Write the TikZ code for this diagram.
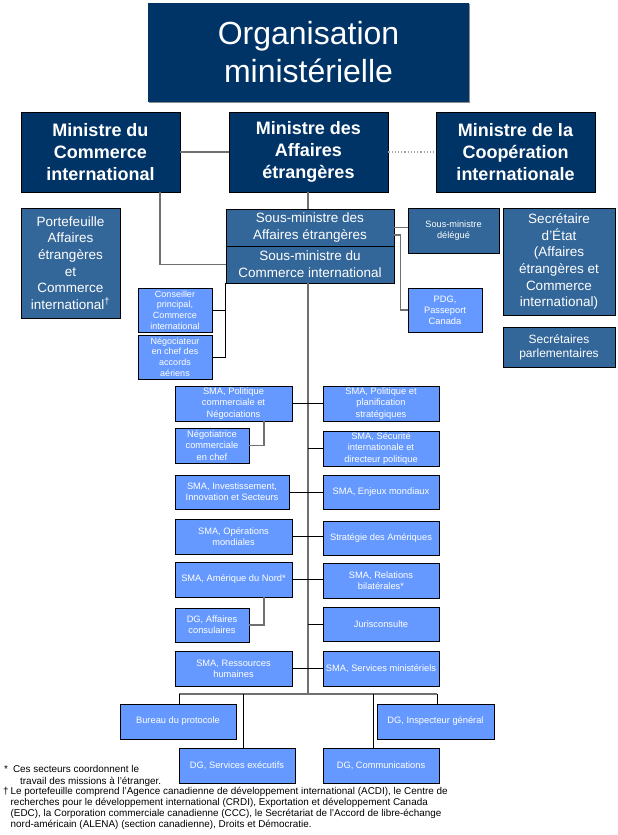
\documentclass[tikz,border=0pt]{standalone}
\usepackage{fontspec}
\setmainfont{Liberation Sans}
\usetikzlibrary{shadows}
\definecolor{navy}{HTML}{003366}
\definecolor{midblue}{HTML}{336699}
\definecolor{lightblue}{HTML}{6699FF}
\definecolor{linegray}{HTML}{707070}
\begin{document}
\begin{tikzpicture}[x=1pt,y=-1pt,
  sz/.style n args={2}{minimum width=#1pt, minimum height=#2pt},
  box/.style={draw=black, line width=0.8pt, text=white, align=center, inner sep=0pt,
    drop shadow={shadow xshift=1.3pt, shadow yshift=-1.3pt, fill=black!45, opacity=1}},
  titlebox/.style={box, draw=none, fill=navy, font=\fontsize{32}{38}\selectfont},
  navybox/.style={box, fill=navy, font=\bfseries\fontsize{18}{22}\selectfont},
  midbox/.style={box, fill=midblue, font=\fontsize{13.5}{16.7}\selectfont},
  smallmid/.style={box, fill=midblue, font=\fontsize{9.2}{11.3}\selectfont},
  lbox/.style={box, fill=lightblue, font=\fontsize{9.3}{11.2}\selectfont},
  mainline/.style={draw=linegray, line width=1.6pt},
  branch/.style={draw=black, line width=0.9pt},
  note/.style={anchor=north west, inner sep=0pt, align=left, font=\fontsize{9.9}{11.3}\selectfont}
]
\useasboundingbox[fill=white] (0,0) rectangle (618,835);

% ---------- title and ministers ----------
\node[titlebox, sz={321}{99}] (title) at (308.5,52.5) {Organisation\\ministérielle};
\node[navybox, sz={159}{80}] (minC) at (100.5,152) {Ministre du\\Commerce\\international};
\node[navybox, sz={159}{80}] (minA) at (308.5,152) {Ministre des\\Affaires\\étrangères};
\node[navybox, sz={159}{80}] (minI) at (515.5,152) {Ministre de la\\Coopération\\internationale};

% ---------- second level ----------
\node[midbox, sz={99}{110}] (port) at (70.5,263) {Portefeuille\\Affaires\\étrangères\\et\\Commerce\\international\textsuperscript{†}};
\node[midbox, sz={168}{37}] (sm1) at (310,227.5) {Sous-ministre des\\Affaires étrangères};
\node[midbox, sz={168}{37}] (sm2) at (310,264.5) {Sous-ministre du\\Commerce international};
\node[smallmid, sz={91}{45}] (smd) at (453.5,230.5) {Sous-ministre\\délégué};
\node[lbox, sz={74}{44}] (pdg) at (445,310) {PDG,\\Passeport\\Canada};
\node[midbox, sz={112}{107}] (sec) at (559,261.5) {Secrétaire\\d'État\\(Affaires\\étrangères et\\Commerce\\international)};
\node[midbox, sz={112}{40}, font=\fontsize{12}{14}\selectfont] (parl) at (559,347) {Secrétaires\\parlementaires};
\node[lbox, sz={74}{44}, font=\fontsize{9}{10.8}\selectfont] (cons) at (175,310) {Conseiller\\principal,\\Commerce\\international};
\node[lbox, sz={74}{44}, font=\fontsize{9}{10.8}\selectfont] (nego) at (175,357) {Négociateur\\en chef des\\accords\\aériens};

% ---------- left column ----------
\node[lbox, sz={117}{35}] (smapc) at (233.5,403.5) {SMA, Politique\\commerciale et\\Négociations};
\node[lbox, sz={74}{35}] (negt) at (212,445.5) {Négotiatrice\\commerciale\\en chef};
\node[lbox, sz={114}{34}] (inv) at (232,492) {SMA, Investissement,\\Innovation et Secteurs};
\node[lbox, sz={117}{35}] (ops) at (233.5,536.5) {SMA, Opérations\\mondiales};
\node[lbox, sz={117}{35}] (adn) at (233.5,579.5) {SMA, Amérique du Nord*};
\node[lbox, sz={74}{34}] (dgac) at (212,625) {DG, Affaires\\consulaires};
\node[lbox, sz={117}{35}] (rh) at (233.5,668.5) {SMA, Ressources\\humaines};

% ---------- right column ----------
\node[lbox, sz={116}{35}] (pps) at (381,403.5) {SMA, Politique et\\planification\\stratégiques};
\node[lbox, sz={116}{35}] (sec2) at (381,448.5) {SMA, Sécurité\\internationale et\\directeur politique};
\node[lbox, sz={116}{34}] (enj) at (381,492) {SMA, Enjeux mondiaux};
\node[lbox, sz={116}{34}] (strat) at (381,538) {Stratégie des Amériques};
\node[lbox, sz={116}{35}] (rb) at (381,580.5) {SMA, Relations\\bilatérales*};
\node[lbox, sz={116}{34}] (juris) at (381,624) {Jurisconsulte};
\node[lbox, sz={116}{35}] (smin) at (381,668.5) {SMA, Services ministériels};

% ---------- bottom ----------
\node[lbox, sz={116}{35}] (bp) at (178,721.5) {Bureau du protocole};
\node[lbox, sz={117}{35}] (insp) at (435.5,721.5) {DG, Inspecteur général};
\node[lbox, sz={116}{35}] (dse) at (237,765.5) {DG, Services exécutifs};
\node[lbox, sz={116}{35}] (com) at (381,765.5) {DG, Communications};

% ---------- coordinates ----------
\coordinate (bus) at (308,694);
\coordinate (busL) at (179,694);
\coordinate (busR) at (437,694);

% ---------- connectors ----------
\draw[mainline] (minC) -- (minA);
\draw[draw=black!35, line width=1.2pt, dotted] (minA) -- (minI);
\draw[mainline] (bus |- minA.south) -- (bus |- sm1.north);
\draw[mainline] ([xshift=59.5pt]minC.south) |- (sm2.west);
\draw[mainline] (bus |- sm2.south) -- (bus);
\draw[mainline] (sm1.east) -- (sm1.east -| smd.west);
\draw[mainline] ([yshift=-7.5pt]sm1.east) -- ++(6,0) |- (pdg.west);
\draw[branch] (sm2.south west) |- (nego.east);
\draw[branch] (cons.east) -- (cons.east -| sm2.south west);

\draw[branch] (smapc.east) -- (pps.west);
\draw[branch] (bus |- sec2.west) -- (sec2.west);
\draw[branch] (inv.east) -- (enj.west);
\draw[branch] (ops.east) -- (ops.east -| strat.west);
\draw[branch] (adn.east) -- (adn.east -| rb.west);
\draw[branch] (bus |- juris.west) -- (juris.west);
\draw[branch] (rh.east) -- (smin.west);
\draw[mainline, line width=1.2pt] ([xshift=30.5pt]smapc.south) |- (negt.east);
\draw[mainline, line width=1.2pt] ([xshift=30.5pt]adn.south) |- (dgac.east);

\draw[mainline, line width=1.3pt] (busL) -- (busR);
\draw[branch] (busL) -- (busL |- bp.north);
\draw[branch] ([xshift=6pt]dse.north |- busL) -- ([xshift=6pt]dse.north);
\draw[branch] ([xshift=-8pt]com.north |- busL) -- ([xshift=-8pt]com.north);
\draw[branch] (busR) -- (busR |- insp.north);

% ---------- notes ----------
\node[note] (n1) at (4,765.5) {*\hspace{5pt}Ces secteurs coordonnent le\\\hspace{16pt}travail des missions à l'étranger.};
\node[note] (n2) at (3,786.5) {†\hspace{2pt}Le portefeuille comprend l'Agence canadienne de développement international (ACDI), le Centre de\\\hspace{7.5pt}recherches pour le développement international (CRDI), Exportation et développement Canada\\\hspace{7.5pt}(EDC), la Corporation commerciale canadienne (CCC), le Secrétariat de l'Accord de libre-échange\\\hspace{7.5pt}nord-américain (ALENA) (section canadienne), Droits et Démocratie.};
\end{tikzpicture}
\end{document}
